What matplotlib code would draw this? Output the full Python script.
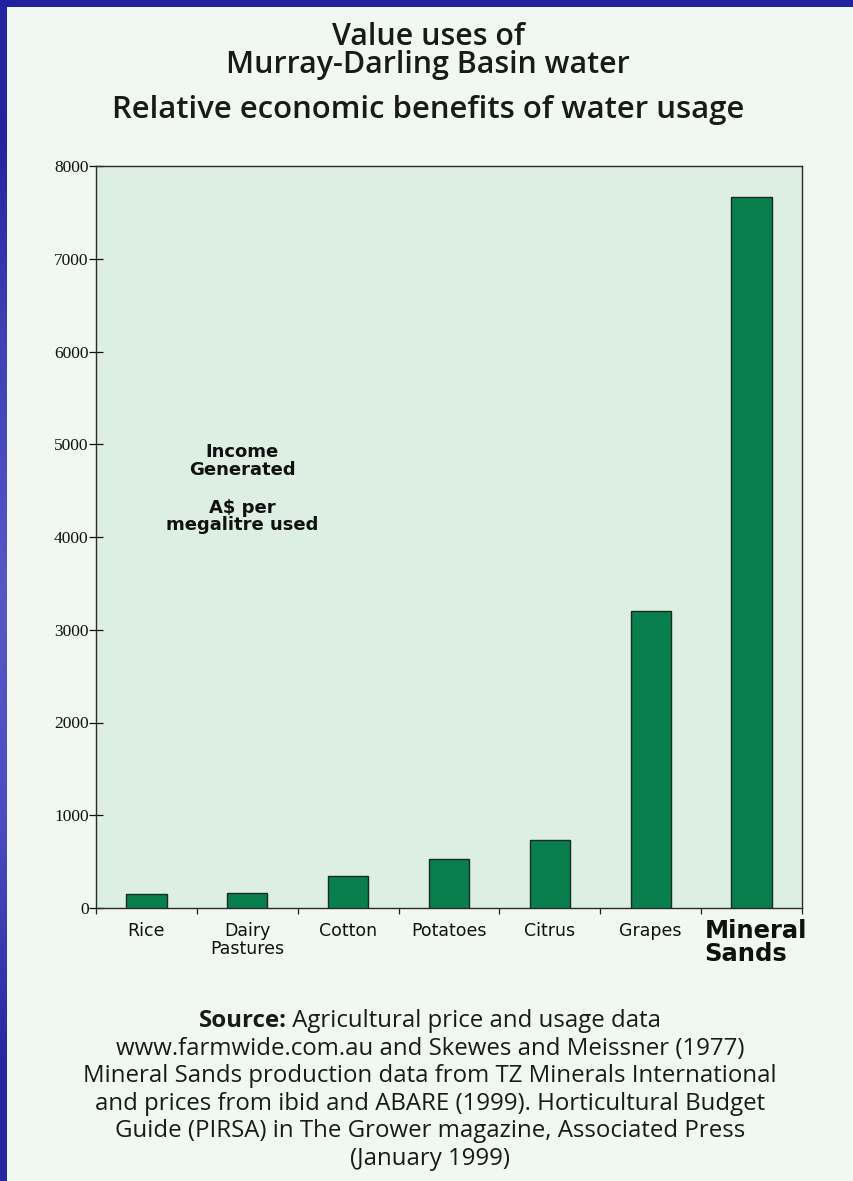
import matplotlib
matplotlib.use("Agg")
import matplotlib.pyplot as plt
import numpy as np
from matplotlib.transforms import ScaledTranslation
from matplotlib.colors import LinearSegmentedColormap

# ---- data ----
categories = ["Rice", "Dairy\nPastures", "Cotton", "Potatoes", "Citrus", "Grapes", "Mineral\nSands"]
income = [150, 160, 350, 530, 730, 3200, 7670]
yticks = [0, 1000, 2000, 3000, 4000, 5000, 6000, 7000, 8000]

title_lines = ["Value uses of", "Murray-Darling Basin water"]
subtitle = "Relative economic benefits of water usage"
annot_lines = ["Income", "Generated", "A$ per", "megalitre used"]
source_bold = "Source:"
source_lines = [
    " Agricultural price and usage data",
    "www.farmwide.com.au and Skewes and Meissner (1977)",
    "Mineral Sands production data from TZ Minerals International",
    "and prices from ibid and ABARE (1999). Horticultural Budget",
    "Guide (PIRSA) in The Grower magazine, Associated Press",
    "(January 1999)",
]

W, H = 854, 1181
fig = plt.figure(figsize=(W / 100, H / 100), dpi=100)
fig.patch.set_facecolor("#f1f7f1")
renderer = fig.canvas.get_renderer()


def fx(px):
    return px / W


def fy(py_from_top):
    return 1 - py_from_top / H


def fit(t, target_px):
    w = t.get_window_extent(renderer).width
    t.set_fontsize(t.get_fontsize() * target_px / w)
    return t


# blue border (top strip + left gradient strip)
top = fig.add_axes([0, fy(7), 1, 7 / H])
top.set_facecolor("#2020a0")
top.set_xticks([]); top.set_yticks([])
for s in top.spines.values():
    s.set_visible(False)
left = fig.add_axes([0, 0, fx(7), 1])
grad = np.array([[0.0], [0.6], [1.0], [0.8], [0.1]])
cmap = LinearSegmentedColormap.from_list("b", ["#2020a0", "#5656c6"])
left.imshow(grad, aspect="auto", cmap=cmap, interpolation="bilinear", extent=[0, 1, 0, 1])
left.set_xticks([]); left.set_yticks([])
for s in left.spines.values():
    s.set_visible(False)

# ---- main axes ----
ax = fig.add_axes([fx(96), fy(908), fx(802) - fx(96), (908 - 166) / H])
ax.set_facecolor("#ddeee3")
x = np.arange(len(categories))
ax.bar(x, income, width=0.4, color="#0a7f4e", edgecolor="#1a2a20", linewidth=1.0, zorder=3)
ax.set_xlim(-0.5, len(categories) - 0.5)
ax.set_ylim(0, 8000)
for s in ax.spines.values():
    s.set_color("#2b2b2b")
    s.set_linewidth(1.0)

ax.set_yticks(yticks)
ax.set_yticklabels([str(v) for v in yticks], fontfamily="Liberation Serif", fontsize=12.5)
ax.tick_params(axis="y", direction="inout", length=9.5, width=0.9, pad=0.5, colors="#111111")

# x: ticks at boundaries, labels at centers
ax.set_xticks(np.arange(-0.5, len(categories), 1.0))
ax.set_xticklabels([])
ax.set_xticks(x, minor=True)
ax.set_xticklabels(categories, minor=True)
ax.tick_params(axis="x", which="major", direction="out", length=4, width=0.9, colors="#222222")
ax.tick_params(axis="x", which="minor", length=0, pad=10)
minor_labels = ax.get_xticklabels(minor=True)
for lab in minor_labels[:-1]:
    lab.set_fontfamily("DejaVu Sans")
    lab.set_fontsize(12.5)
    lab.set_linespacing(0.98)
    lab.set_color("#111111")
last = minor_labels[-1]
last.set_fontfamily("DejaVu Sans")
last.set_fontweight("bold")
last.set_fontsize(17.5)
last.set_linespacing(0.95)
last.set_horizontalalignment("left")
last.set_multialignment("left")
last.set_color("#111111")
last.set_transform(last.get_transform() + ScaledTranslation(-47 / 100, 3 / 100, fig.dpi_scale_trans))

# annotation inside plot
ann_y = [457, 475, 513, 530]
for txt, yy in zip(annot_lines, ann_y):
    ax.text((242 - 96) / (802 - 96), (908 - yy) / (908 - 166), txt, transform=ax.transAxes,
            ha="center", va="baseline", fontfamily="DejaVu Sans", fontweight="bold",
            fontsize=13, color="#111111")

# titles (two-line main title as one text block)
probe = fig.text(0, 0, title_lines[1], fontfamily="Open Sans", fontweight="semibold", fontsize=18)
fit(probe, 460 * 0.88)
title_fs = probe.get_fontsize()
probe.remove()
fig.text(fx(428), fy(22), "\n".join(title_lines), ha="center", va="top", fontfamily="Open Sans",
         fontweight="semibold", fontsize=title_fs, color="#1a1a1a", linespacing=0.92,
         multialignment="center")
t = fig.text(fx(428), fy(118), subtitle, ha="center", va="baseline", fontfamily="Open Sans",
             fontweight="semibold", fontsize=18, color="#1a1a1a")
fit(t, 720 * 0.88)

# source block
src_y = [1027, 1055, 1082, 1110, 1137, 1165]
probe = fig.text(0, 0, source_lines[2], fontfamily="Open Sans", fontsize=16)
fit(probe, 786 * 0.88)
src_fs = probe.get_fontsize()
probe.remove()

tb = fig.text(0, fy(src_y[0]), source_bold, ha="left", va="baseline", fontfamily="Open Sans",
              fontweight="bold", fontsize=src_fs, color="#1a1a1a")
tn = fig.text(0, fy(src_y[0]), source_lines[0], ha="left", va="baseline", fontfamily="Open Sans",
              fontweight="normal", fontsize=src_fs, color="#1a1a1a")
wb = tb.get_window_extent(renderer).width
wn = tn.get_window_extent(renderer).width
x0 = 430 - (wb + wn) / 2
tb.set_x(fx(x0))
tn.set_x(fx(x0 + wb))
for txt, yy in zip(source_lines[1:], src_y[1:]):
    fig.text(fx(430), fy(yy), txt, ha="center", va="baseline", fontfamily="Open Sans",
             fontweight="normal", fontsize=src_fs, color="#1a1a1a")

fig.savefig("out.png", dpi=100, facecolor=fig.get_facecolor())
